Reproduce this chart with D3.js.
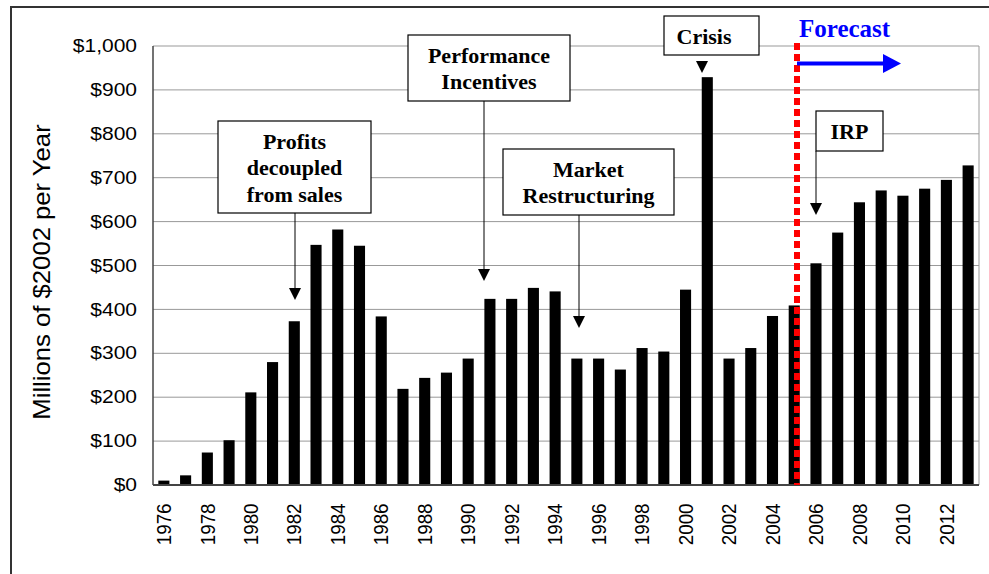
<!DOCTYPE html>
<html>
<head>
<meta charset="utf-8">
<script src="https://cdn.jsdelivr.net/npm/d3@7/dist/d3.min.js"></script>
<style>
  body { margin: 0; background: #fff; }
  svg { display: block; }
</style>
</head>
<body>
<svg id="chart" width="989" height="574"></svg>
<script>
// data
const years = [1976, 1977, 1978, 1979, 1980, 1981, 1982, 1983, 1984, 1985,
  1986, 1987, 1988, 1989, 1990, 1991, 1992, 1993, 1994, 1995,
  1996, 1997, 1998, 1999, 2000, 2001, 2002, 2003, 2004, 2005,
  2006, 2007, 2008, 2009, 2010, 2011, 2012, 2013]

const spending = [10, 22, 74, 102, 211, 280, 373, 547, 582, 545,
  384, 219, 244, 256, 288, 424, 424, 449, 441, 288,
  288, 263, 312, 304, 445, 929, 288, 312, 385, 409,
  505, 575, 644, 671, 659, 675, 695, 728]

const yTicks = [0, 100, 200, 300, 400, 500, 600, 700, 800, 900, 1000]
const xTickYears = [1976, 1978, 1980, 1982, 1984, 1986, 1988, 1990, 1992, 1994,
  1996, 1998, 2000, 2002, 2004, 2006, 2008, 2010, 2012]

const yTitle = "Millions of $2002 per Year"
const forecastLabel = "Forecast"

// annotation boxes (pixel layout)
const notes = [
  { lines: ["Profits", "decoupled", "from sales"], box: [218, 121, 153, 92], ax: 295, tip: 300 },
  { lines: ["Performance", "Incentives"], box: [408, 35, 162, 66], ax: 484, tip: 281 },
  { lines: ["Market", "Restructuring"], box: [503, 149, 171, 66], ax: 579, tip: 328 },
  { lines: ["Crisis"], box: [664, 16, 95, 39], ax: 702, tip: 73, headOnly: true, tx: 704 },
  { lines: ["IRP"], box: [816, 111, 67, 40], ax: 816, tip: 215 }
]

const plot = { left: 153, right: 979, top: 46, bottom: 485 }

const svg = d3.select("#chart")

// outer frame
svg.append("rect")
  .attr("x", 11).attr("y", 7)
  .attr("width", 1000).attr("height", 600)
  .attr("fill", "none")
  .attr("stroke", "#333")
  .attr("stroke-width", 2)

let x = d3.scaleBand()
  .domain(years)
  .range([plot.left, plot.right])
  .paddingInner(0.49)
  .paddingOuter(0.245)

let y = d3.scaleLinear()
  .domain([0, 1000])
  .range([plot.bottom, plot.top])

// gridlines
svg.append("g")
  .selectAll("line")
  .data(yTicks.slice(1))
  .enter()
  .append("line")
  .attr("x1", plot.left).attr("x2", plot.right)
  .attr("y1", d => y(d)).attr("y2", d => y(d))
  .attr("stroke", "#999")
  .attr("stroke-width", 1)

// right frame edge
svg.append("line")
  .attr("x1", plot.right).attr("x2", plot.right)
  .attr("y1", plot.top).attr("y2", plot.bottom)
  .attr("stroke", "#999")

// bars
svg.append("g")
  .selectAll("rect")
  .data(spending)
  .enter()
  .append("rect")
  .attr("x", (d, i) => x(years[i]))
  .attr("y", d => y(d))
  .attr("width", x.bandwidth())
  .attr("height", d => y(0) - y(d))
  .attr("fill", "#000")

// y axis
let yAxis = d3.axisLeft(y)
  .tickValues(yTicks)
  .tickFormat(d => "$" + d3.format(",")(d))
  .tickSize(0)

let yg = svg.append("g")
  .attr("transform", "translate(" + plot.left + ",0)")
  .call(yAxis)
yg.select(".domain").remove()
yg.selectAll("text")
  .attr("x", 0)
  .attr("transform", "translate(-16,0) scale(1.2,1)")
  .attr("fill", "#000")
  .style("font-family", "'Liberation Sans', Arial, sans-serif")
  .style("font-size", "17.5px")

// x axis
let xAxis = d3.axisBottom(x)
  .tickValues(xTickYears)
  .tickSize(0)

let xg = svg.append("g")
  .attr("transform", "translate(0," + plot.bottom + ")")
  .call(xAxis)
xg.select(".domain").remove()
xg.selectAll("text")
  .attr("y", 0)
  .attr("x", -20)
  .attr("dy", "0.35em")
  .attr("transform", "rotate(-90) scale(0.92,1)")
  .attr("fill", "#000")
  .style("text-anchor", "end")
  .style("font-family", "'Liberation Sans', Arial, sans-serif")
  .style("font-size", "20.5px")

// axis lines
svg.append("line")
  .attr("x1", plot.left).attr("x2", plot.left)
  .attr("y1", plot.top).attr("y2", plot.bottom)
  .attr("stroke", "#444").attr("stroke-width", 1.5)
svg.append("line")
  .attr("x1", plot.left).attr("x2", plot.right)
  .attr("y1", plot.bottom).attr("y2", plot.bottom)
  .attr("stroke", "#444").attr("stroke-width", 2)

// y title
svg.append("text")
  .attr("transform", "translate(50,272) rotate(-90) scale(1.07,1)")
  .attr("text-anchor", "middle")
  .style("font-family", "'Liberation Sans', Arial, sans-serif")
  .style("font-size", "24px")
  .text(yTitle)

// forecast divider
svg.append("line")
  .attr("x1", 797).attr("x2", 797)
  .attr("y1", 43).attr("y2", plot.bottom)
  .attr("stroke", "#ff0000")
  .attr("stroke-width", 6)
  .attr("stroke-dasharray", "7,4")

svg.append("text")
  .attr("x", 799).attr("y", 37)
  .attr("fill", "#0000ff")
  .style("font-family", "'Liberation Serif', 'Times New Roman', serif")
  .style("font-weight", "bold")
  .style("font-size", "25px")
  .text(forecastLabel)

svg.append("line")
  .attr("x1", 797).attr("x2", 885)
  .attr("y1", 63.5).attr("y2", 63.5)
  .attr("stroke", "#0000ff")
  .attr("stroke-width", 4)
svg.append("path")
  .attr("d", "M883,54 L901,63.5 L883,73 Z")
  .attr("fill", "#0000ff")

// annotations
let note = svg.append("g")
  .selectAll("g")
  .data(notes)
  .enter()
  .append("g")

note.filter(d => !d.headOnly)
  .append("line")
  .attr("x1", d => d.ax).attr("x2", d => d.ax)
  .attr("y1", d => d.box[1] + d.box[3])
  .attr("y2", d => d.tip - 10)
  .attr("stroke", "#000")
  .attr("stroke-width", 1)

note.append("path")
  .attr("d", d => "M" + (d.ax - 6) + "," + (d.tip - 12) + " L" + (d.ax + 6) + "," + (d.tip - 12) + " L" + d.ax + "," + d.tip + " Z")
  .attr("fill", "#000")

note.append("rect")
  .attr("x", d => d.box[0]).attr("y", d => d.box[1])
  .attr("width", d => d.box[2]).attr("height", d => d.box[3])
  .attr("fill", "#fff")
  .attr("stroke", "#000")
  .attr("stroke-width", 1.2)

note.each(function(d) {
  let g = d3.select(this)
  let cx = d.tx || d.box[0] + d.box[2] / 2
  let first = d.box[1] + d.box[3] / 2 - (d.lines.length - 1) * 26.5 / 2 + 8
  d.lines.forEach(function(line, i) {
    g.append("text")
      .attr("x", cx)
      .attr("y", first + i * 26.5)
      .attr("text-anchor", "middle")
      .style("font-family", "'Liberation Serif', 'Times New Roman', serif")
      .style("font-weight", "bold")
      .style("font-size", "22px")
      .text(line)
  })
})
</script>
</body>
</html>
